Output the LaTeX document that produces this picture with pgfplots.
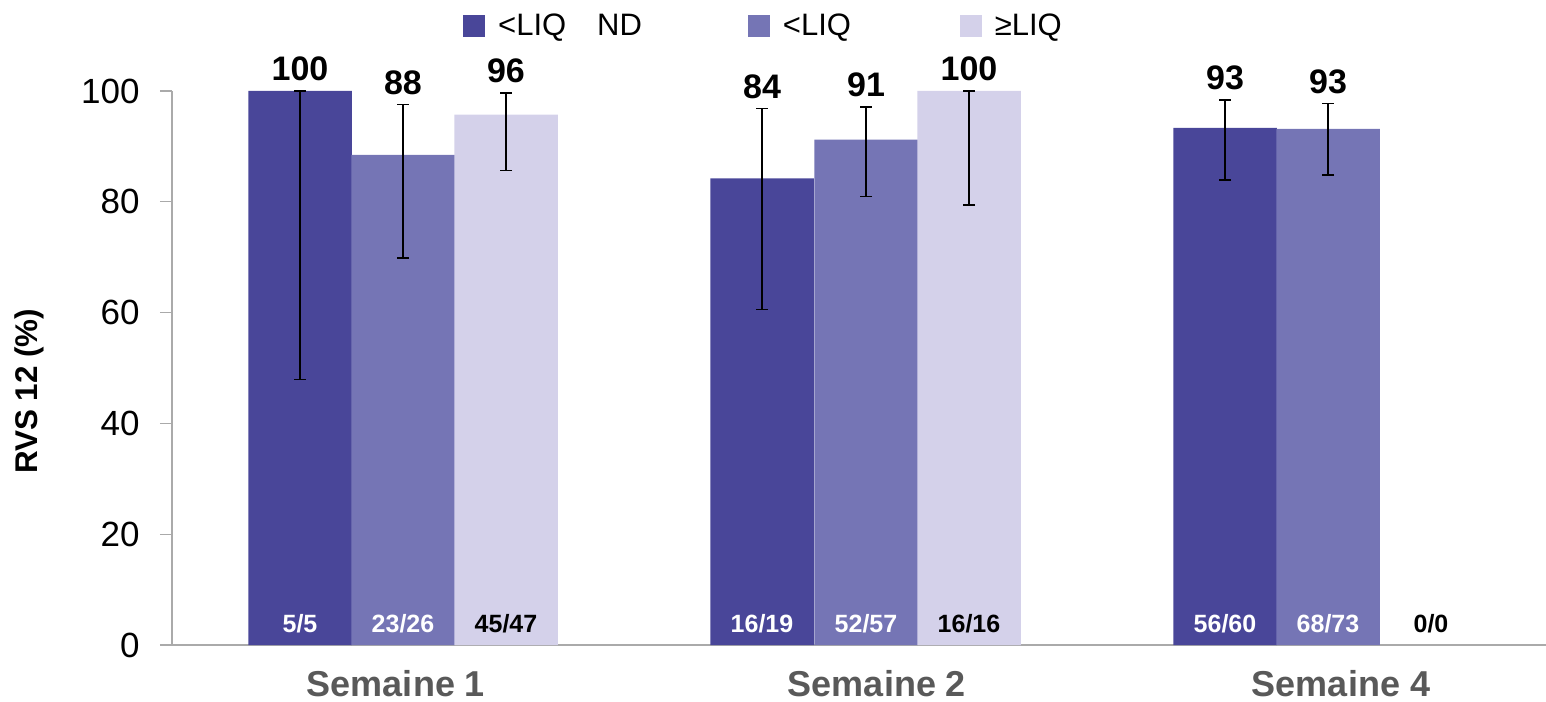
\documentclass[border=0pt]{standalone}
\usepackage{pgfplots}
\pgfplotsset{compat=1.18}
\usepackage{pgfplotstable}
\usepackage{fontspec}
\setmainfont{Liberation Sans}

\definecolor{cA}{RGB}{73,70,153}
\definecolor{cB}{RGB}{117,117,181}
\definecolor{cC}{RGB}{212,209,234}
\definecolor{axgray}{RGB}{170,170,170}
\definecolor{labgray}{RGB}{89,89,89}

% x positions are bar centres (in pixel-like units)
\pgfplotstableread{
x y ep em
300 100 0 52.1
762 84.21 12.6 23.7
1225 93.33 5.07 9.4
}\serA
\pgfplotstableread{
x y ep em
403 88.46 9.1 18.6
866 91.23 5.9 10.3
1328 93.15 4.6 8.3
}\serB
\pgfplotstableread{
x y ep em
506 95.74 3.9 10.1
969 100 0 20.6
}\serC
% labels above error bars
\pgfplotstableread{
x y lab
300 100 100
403 97.56 88
506 99.64 96
762 96.81 84
866 97.13 91
969 100 100
1225 98.40 93
1328 97.75 93
}\topLabels
\pgfplotstableread{
x y lab
300 0 5/5
403 0 23/26
762 0 16/19
866 0 52/57
1225 0 56/60
1328 0 68/73
}\botWhite
\pgfplotstableread{
x y lab
506 0 45/47
969 0 16/16
1431 0 0/0
}\botBlack

\begin{document}
\begin{tikzpicture}
\useasboundingbox (-86pt,-28pt) rectangle (687pt,322.5pt);
\begin{axis}[
  scale only axis,
  width=687pt, height=277pt,
  xmin=172, xmax=1546,
  ymin=0, ymax=100,
  axis x line*=bottom, axis y line*=left,
  axis line style={axgray, line width=0.6pt},
  clip=false,
  ytick={0,20,40,60,80,100},
  tick align=outside,
  major tick length=6pt,
  ytick style={axgray, line width=0.6pt},
  xtick={396,877,1341},
  xticklabels={Semaine 1,Semaine 2,Semaine 4},
  xtick style={draw=none},
  yticklabel style={font=\fontsize{17.5}{20}\selectfont, inner sep=0pt, xshift=-10pt},
  /pgf/number format/assume math mode=true,
  xticklabel style={font=\fontsize{18}{20}\selectfont\bfseries, text=labgray, anchor=base, yshift=-19.5pt},
  ylabel={\textbf{RVS 12 (\%)}},
  ylabel style={font=\fontsize{15.7}{17}\selectfont, at={(axis description cs:-0.104,0.458)}, anchor=center},
  legend columns=3,
  legend style={draw=none, fill=none, font=\fontsize{15.5}{17}\selectfont,
    at={(axis description cs:0.2074,1.147)}, anchor=north west,
    column sep=0pt, row sep=0pt, nodes={inner sep=0pt, anchor=west}},
  error bars/error bar style={black, line width=0.7pt},
  error bars/error mark options={rotate=90, mark size=3pt, line width=0.7pt, black},
]
\addlegendimage{legend image code/.code={\fill[cA] (0pt,-5.25pt) rectangle (10.5pt,5.25pt); \path (17pt,0pt);}}
\addlegendimage{legend image code/.code={\fill[cB] (0pt,-5.25pt) rectangle (10.5pt,5.25pt); \path (17pt,0pt);}}
\addlegendimage{legend image code/.code={\fill[cC] (0pt,-5.25pt) rectangle (10.5pt,5.25pt); \path (17pt,0pt);}}
\legend{\makebox[125pt][l]{<LIQ\hspace{15.5pt}ND},\makebox[88.5pt][l]{<LIQ},≥LIQ}

\addplot[forget plot, ybar, bar width=103.5, bar shift=0pt, fill=cA, draw=none,
  error bars/.cd, y dir=both, y explicit]
  table[x=x, y=y, y error plus=ep, y error minus=em] {\serA};
\addplot[forget plot, ybar, bar width=103.5, bar shift=0pt, fill=cB, draw=none,
  error bars/.cd, y dir=both, y explicit]
  table[x=x, y=y, y error plus=ep, y error minus=em] {\serB};
\addplot[forget plot, ybar, bar width=103.5, bar shift=0pt, fill=cC, draw=none,
  error bars/.cd, y dir=both, y explicit]
  table[x=x, y=y, y error plus=ep, y error minus=em] {\serC};

\addplot[forget plot, draw=none, mark=none, nodes near coords, point meta=explicit symbolic,
  nodes near coords style={font=\fontsize{17}{19}\selectfont\bfseries, anchor=base, inner sep=0pt, yshift=5pt, text=black}]
  table[x=x, y=y, meta=lab] {\topLabels};
\addplot[forget plot, draw=none, mark=none, nodes near coords, point meta=explicit symbolic,
  nodes near coords style={font=\fontsize{12.5}{14}\selectfont\bfseries, anchor=base, inner sep=0pt, yshift=6.5pt, text=white}]
  table[x=x, y=y, meta=lab] {\botWhite};
\addplot[forget plot, draw=none, mark=none, nodes near coords, point meta=explicit symbolic,
  nodes near coords style={font=\fontsize{12.5}{14}\selectfont\bfseries, anchor=base, inner sep=0pt, yshift=6.5pt, text=black}]
  table[x=x, y=y, meta=lab] {\botBlack};
\end{axis}
\end{tikzpicture}
\end{document}
